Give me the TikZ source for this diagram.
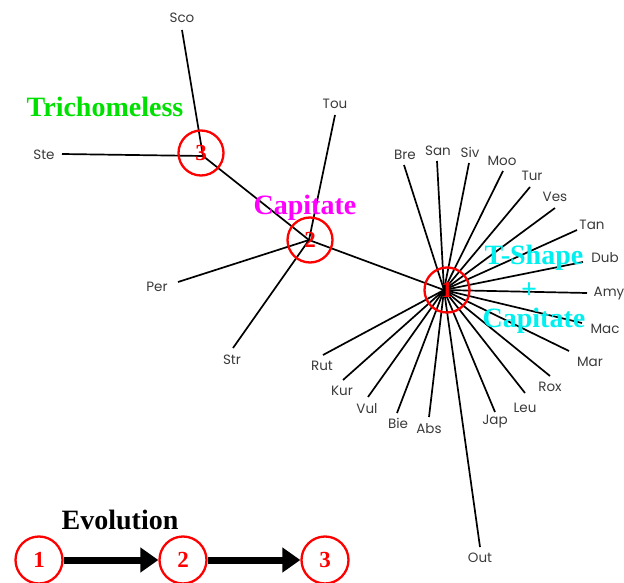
\documentclass[tikz,border=0pt]{standalone}
\usepackage{fontspec}
\setmainfont{Liberation Serif}
\newfontfamily\leaffont{Poppins}
\usetikzlibrary{arrows.meta}
\definecolor{leafgray}{HTML}{3A3A3A}
\definecolor{tgreen}{HTML}{00E000}
\definecolor{tmag}{HTML}{FF00FF}
\definecolor{tcyan}{HTML}{00F0F0}
\tikzset{
  branch/.style={line width=1.7pt, black},
  leaf/.style={font=\leaffont\fontsize{13.5}{13.5}\selectfont, text=leafgray, inner sep=0pt},
  hub/.style={circle, draw=red, line width=2.3pt, minimum size=45pt, inner sep=0pt,
              font=\bfseries\fontsize{23}{23}\selectfont, text=red},
  trait/.style={font=\bfseries\fontsize{28}{28}\selectfont, inner sep=0pt},
  evo/.style={line width=7pt, -{Triangle[length=18pt,width=24pt]}}
}
\begin{document}
\begin{tikzpicture}[x=1pt,y=-1pt]
\useasboundingbox (0,0) rectangle (624,583);
% hub centres
\coordinate (h1) at (444,290);
\coordinate (h2) at (309,240);
\coordinate (h3) at (203,156);
% leaf ends
\coordinate (eSco) at (182,30);
\coordinate (eSte) at (62,154);
\coordinate (eTou) at (335,115);
\coordinate (ePer) at (178,282);
\coordinate (eStr) at (233,348);
\coordinate (eBre) at (404,165);
\coordinate (eSan) at (437,161);
\coordinate (eSiv) at (469,163);
\coordinate (eMoo) at (503,171);
\coordinate (eTur) at (530,187);
\coordinate (eVes) at (555,208);
\coordinate (eTan) at (577,230);
\coordinate (eDub) at (583,262);
\coordinate (eAmy) at (587,293);
\coordinate (eMac) at (582,323);
\coordinate (eMar) at (569,351);
\coordinate (eRox) at (550,376);
\coordinate (eLeu) at (525,393);
\coordinate (eJap) at (495,412);
\coordinate (eOut) at (480,547);
\coordinate (eAbs) at (429,417);
\coordinate (eBie) at (397,413);
\coordinate (eVul) at (368,397);
\coordinate (eKur) at (343,380);
\coordinate (eRut) at (323,355);
% branches
\draw[branch] (h3) -- (eSco);
\draw[branch] (h3) -- (eSte);
\draw[branch] (h3) -- (h2);
\draw[branch] (h2) -- (eTou);
\draw[branch] (h2) -- (ePer);
\draw[branch] (h2) -- (eStr);
\draw[branch] (h2) -- (h1);
\foreach \n in {Bre,San,Siv,Moo,Tur,Ves,Tan,Dub,Amy,Mac,Mar,Rox,Leu,Jap,Out,Abs,Bie,Vul,Kur,Rut}
  \draw[branch] (h1) -- (e\n);
% leaf labels
\node[leaf] (lSco) at (182,18) {Sco};
\node[leaf] (lSte) at (44,155) {Ste};
\node[leaf] (lTou) at (335,104) {Tou};
\node[leaf] (lPer) at (157,287) {Per};
\node[leaf] (lStr) at (232,360) {Str};
\node[leaf] (lBre) at (405,155) {Bre};
\node[leaf] (lSan) at (438,151) {San};
\node[leaf] (lSiv) at (470,152) {Siv};
\node[leaf] (lMoo) at (502,161) {Moo};
\node[leaf] (lTur) at (532,176) {Tur};
\node[leaf] (lVes) at (555,197) {Ves};
\node[leaf] (lTan) at (592,225) {Tan};
\node[leaf] (lDub) at (605,258) {Dub};
\node[leaf] (lAmy) at (609,294) {Amy};
\node[leaf] (lMac) at (605,329) {Mac};
\node[leaf] (lMar) at (590,362) {Mar};
\node[leaf] (lRox) at (550,387) {Rox};
\node[leaf] (lLeu) at (525,408) {Leu};
\node[leaf] (lJap) at (495,422) {Jap};
\node[leaf] (lOut) at (480,558) {Out};
\node[leaf] (lAbs) at (429,429) {Abs};
\node[leaf] (lBie) at (398,423) {Bie};
\node[leaf] (lVul) at (367,409) {Vul};
\node[leaf] (lKur) at (342,391) {Kur};
\node[leaf] (lRut) at (322,366) {Rut};
% hubs
\node[hub] (c1) at (447,290) {1};
\node[hub] (c2) at (310,240) {2};
\node[hub] (c3) at (201,153) {3};
% traits
\node[trait, text=tgreen] (tTri) at (105,107) {Trichomeless};
\node[trait, text=tmag] (tCap) at (305,208) {Capitate};
\node[trait, text=tcyan] (tTS) at (534,258) {T-Shape};
\node[trait, text=tcyan] (tPlus) at (529,291) {+};
\node[trait, text=tcyan] (tCap2) at (534,321) {Capitate};
% legend
\node[font=\bfseries\fontsize{28}{28}\selectfont, inner sep=0pt] (evol) at (120,520) {Evolution};
\node[hub, minimum size=47pt] (g1) at (39,560) {1};
\node[hub, minimum size=47pt] (g2) at (183,560) {2};
\node[hub, minimum size=47pt] (g3) at (325,560) {3};
\draw[evo] (g1) -- (g2);
\draw[evo] (g2) -- (g3);
\end{tikzpicture}
\end{document}
